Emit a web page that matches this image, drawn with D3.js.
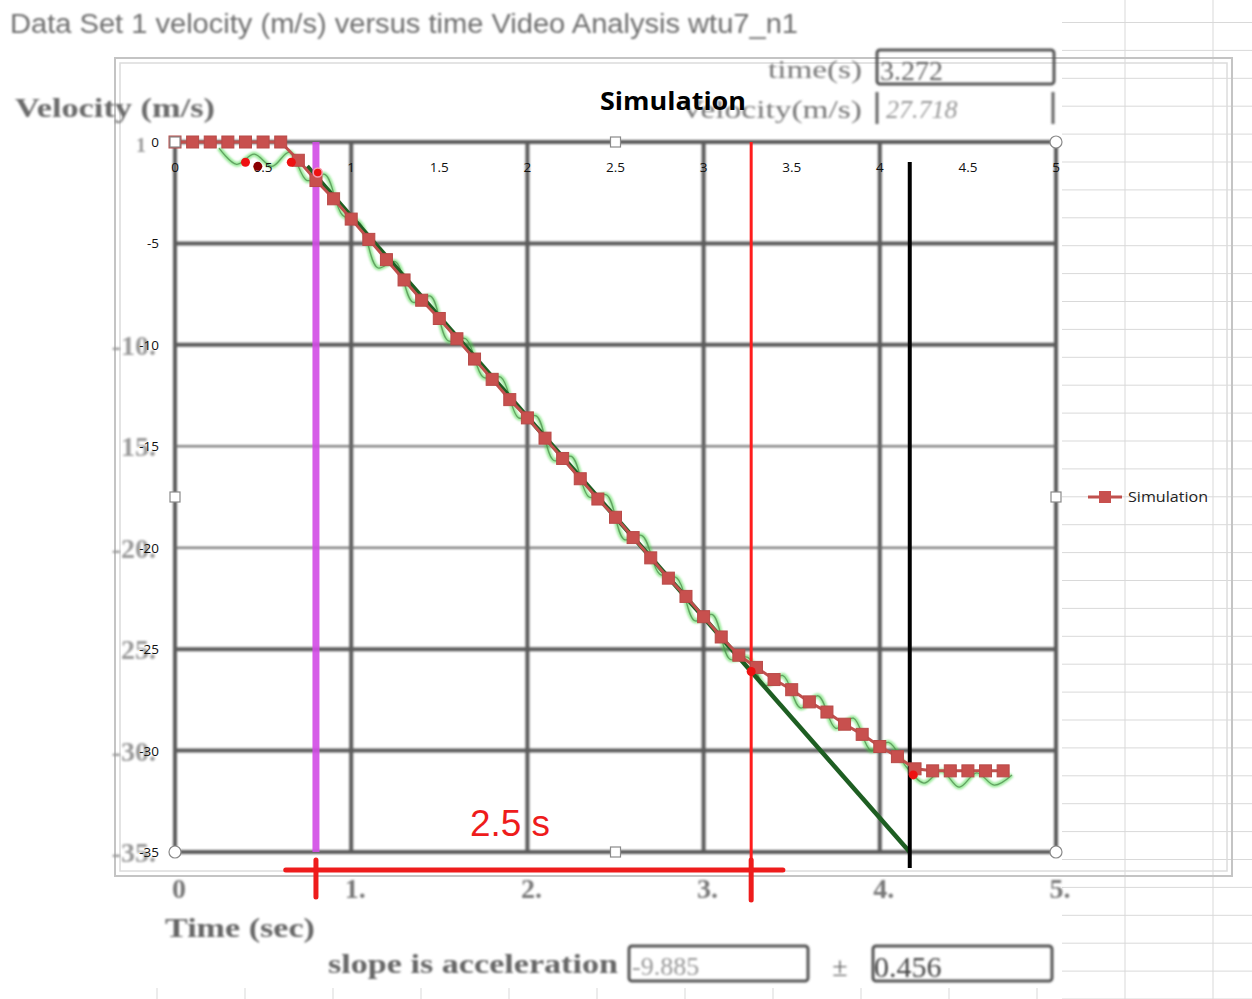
<!DOCTYPE html>
<html>
<head>
<meta charset="utf-8">
<title>Velocity versus time</title>
<script src="https://cdn.jsdelivr.net/npm/d3@7"></script>
<style>
	body { margin: 0; background: #fff; }
	svg { display: block; }
</style>
</head>
<body>
<div class="chart"></div>
<script>
// data
const simT = [0,0.1,0.2,0.3,0.4,0.5,0.6,0.7,0.8,0.9,1.0,1.1,1.2,1.3,1.4,1.5,1.6,1.7,1.8,1.9,2.0,2.1,2.2,2.3,2.4,2.5,2.6,2.7,2.8,2.9,3.0,3.1,3.2,3.3,3.4,3.5,3.6,3.7,3.8,3.9,4.0,4.1,4.2,4.3,4.4,4.5,4.6,4.7];
const simV = [0,0,0,0,0,0,0,-0.9,-1.9,-2.8,-3.8,-4.8,-5.8,-6.8,-7.8,-8.7,-9.7,-10.7,-11.7,-12.7,-13.6,-14.6,-15.6,-16.6,-17.6,-18.5,-19.5,-20.5,-21.5,-22.4,-23.4,-24.4,-25.3,-25.9,-26.5,-27.0,-27.6,-28.1,-28.7,-29.2,-29.8,-30.3,-30.9,-31.0,-31.0,-31.0,-31.0,-31.0];

// video analysis (noisy measured velocity)
const measT = [0.25,0.35,0.45,0.55,0.65,0.75,0.85,0.95,1.05,1.15,1.25,1.35,1.45,1.55,1.65,1.75,1.85,1.95,2.05,2.15,2.25,2.35,2.45,2.55,2.65,2.75,2.85,2.95,3.05,3.15,3.25,3.35,3.45,3.55,3.65,3.75,3.85,3.95,4.05,4.15,4.25,4.35,4.45,4.55,4.65,4.75];
const measV = [-0.3,-1.1,-0.6,-1.2,-0.5,-1.9,-1.6,-3.6,-4.0,-6.2,-5.9,-7.9,-7.6,-9.8,-9.7,-11.6,-11.6,-13.6,-13.5,-15.7,-15.5,-17.5,-17.4,-19.6,-19.4,-21.3,-21.5,-23.6,-23.3,-25.5,-25.4,-26.8,-26.3,-27.9,-27.3,-28.9,-28.4,-30.0,-29.6,-30.8,-31.6,-31.0,-31.8,-31.1,-31.7,-31.2];

// fitted line (slope)
const fitT = [0.75, 4.17];
const fitV = [-1.2, -35];

// marked points
const dotT = [0.40, 0.47, 0.66, 0.81, 3.27, 4.19];
const dotV = [-1.0, -1.2, -1.0, -1.5, -26.1, -31.2];

// cursors
const magentaT = 0.80;
const redT = 3.27;
const blackT = 4.17;
const bracketT = [0.6, 3.45];

// ticks
const xTicks = [0,0.5,1,1.5,2,2.5,3,3.5,4,4.5,5];
const yTicks = [0,-5,-10,-15,-20,-25,-30,-35];
const bgXLabels = ["0","1.","2.","3.","4.","5."];
const bgYLabels = ["1","","-10.","15.","-20.","25.","-30.","-35."];
const thickY = [0,-5,-10,-25,-30,-35];
const thinY = [-15,-20];

const width = 1252;
const height = 999;

const svg = d3.select(".chart").append("svg")
	.attr("width", width)
	.attr("height", height);

const defs = svg.append("defs");
defs.append("filter").attr("id", "soft")
	.append("feGaussianBlur").attr("stdDeviation", 0.8);
defs.append("filter").attr("id", "glow")
	.append("feGaussianBlur").attr("stdDeviation", 1.2);

var xscale = d3.scaleLinear().domain([0, 5]).range([175, 1056]);
var yscale = d3.scaleLinear().domain([0, -35]).range([142, 852]);

// spreadsheet cells behind everything
const sheet = svg.append("g").attr("stroke", "#d9d9d9").attr("stroke-width", 1);
d3.range(0, 36).forEach(function(i){
	let yy = 22.5 + i * 27.9;
	sheet.append("line").attr("x1", 1062).attr("x2", width).attr("y1", yy).attr("y2", yy);
});
d3.range(0, 13).forEach(function(i){
	let xx = 157 + i * 88;
	if (xx > 1060) {
		sheet.append("line").attr("x1", xx).attr("x2", xx).attr("y1", 0).attr("y2", height);
	} else {
		sheet.append("line").attr("x1", xx).attr("x2", xx).attr("y1", 988).attr("y2", height);
	}
});

// chart area frame (double line)
svg.append("rect").attr("x", 115).attr("y", 58).attr("width", 1117).attr("height", 818)
	.attr("fill", "none").attr("stroke", "#c4c4c4").attr("stroke-width", 2);
svg.append("rect").attr("x", 120).attr("y", 63).attr("width", 1107).attr("height", 808)
	.attr("fill", "none").attr("stroke", "#dcdcdc").attr("stroke-width", 1.5);

// background analysis image: grid
const grid = svg.append("g").attr("filter", "url(#soft)");
grid.selectAll(".vg")
	.data([0,1,2,3,4,5])
	.enter().append("line")
		.attr("x1", d => xscale(d)).attr("x2", d => xscale(d))
		.attr("y1", yscale(0)).attr("y2", yscale(-35))
		.attr("stroke", "#5c5c5c").attr("stroke-width", 4);
grid.selectAll(".hg")
	.data(thickY)
	.enter().append("line")
		.attr("x1", xscale(0)).attr("x2", xscale(5))
		.attr("y1", d => yscale(d)).attr("y2", d => yscale(d))
		.attr("stroke", "#5c5c5c").attr("stroke-width", 4);
grid.selectAll(".hgt")
	.data(thinY)
	.enter().append("line")
		.attr("x1", xscale(0)).attr("x2", xscale(5))
		.attr("y1", d => yscale(d)).attr("y2", d => yscale(d))
		.attr("stroke", "#6a6a6a").attr("stroke-width", 2);

// background texts (blurry serif)
const bg = svg.append("g").attr("filter", "url(#soft)").attr("fill", "#5a5a5a");
bg.append("text").attr("x", 10).attr("y", 33)
	.attr("font-family", "Liberation Sans Narrow, Liberation Sans, sans-serif")
	.attr("font-size", 27).attr("textLength", 788).attr("lengthAdjust", "spacingAndGlyphs")
	.attr("fill", "#6e6e6e")
	.text("Data Set 1 velocity (m/s) versus time   Video Analysis wtu7_n1");
bg.append("text").attr("x", 15).attr("y", 117)
	.attr("font-family", "Liberation Serif, serif").attr("font-weight", "bold")
	.attr("font-size", 27).attr("textLength", 200).attr("lengthAdjust", "spacingAndGlyphs")
	.attr("fill", "#6a6a6a")
	.text("Velocity (m/s)");
bg.append("text").attr("x", 768).attr("y", 78)
	.attr("font-family", "Liberation Serif, serif").attr("font-size", 26)
	.attr("textLength", 94).attr("lengthAdjust", "spacingAndGlyphs").attr("fill", "#777")
	.text("time(s)");
bg.append("text").attr("x", 680).attr("y", 118)
	.attr("font-family", "Liberation Serif, serif").attr("font-size", 26)
	.attr("textLength", 182).attr("lengthAdjust", "spacingAndGlyphs").attr("fill", "#777")
	.text("Velocity(m/s)");
bg.append("rect").attr("x", 877).attr("y", 50).attr("width", 177).attr("height", 34).attr("rx", 3)
	.attr("fill", "none").attr("stroke", "#555").attr("stroke-width", 3);
bg.append("text").attr("x", 880).attr("y", 80)
	.attr("font-family", "Liberation Serif, serif").attr("font-size", 28).attr("fill", "#666")
	.text("3.272");
bg.append("line").attr("x1", 877).attr("x2", 877).attr("y1", 92).attr("y2", 124).attr("stroke", "#666").attr("stroke-width", 3);
bg.append("line").attr("x1", 1053).attr("x2", 1053).attr("y1", 92).attr("y2", 124).attr("stroke", "#666").attr("stroke-width", 3);
bg.append("text").attr("x", 886).attr("y", 118)
	.attr("font-family", "Liberation Serif, serif").attr("font-style", "italic")
	.attr("font-size", 26).attr("fill", "#999")
	.text("27.718");

bg.selectAll(".bgx")
	.data(bgXLabels)
	.enter().append("text")
		.attr("x", (d, i) => xscale(i) + 4)
		.attr("y", 898)
		.attr("text-anchor", "middle")
		.attr("font-family", "Liberation Serif, serif").attr("font-weight", "bold")
		.attr("font-size", 28).attr("fill", "#777")
		.text(d => d);
bg.selectAll(".bgy")
	.data(bgYLabels)
	.enter().append("text")
		.attr("x", (d, i) => i == 0 ? 146 : 156)
		.attr("y", (d, i) => yscale(yTicks[i]) + 10)
		.attr("text-anchor", "end")
		.attr("font-family", "Liberation Serif, serif").attr("font-weight", "bold")
		.attr("font-size", (d, i) => i == 0 ? 20 : 28).attr("fill", "#999")
		.text(d => d);
bg.append("text").attr("x", 165).attr("y", 937)
	.attr("font-family", "Liberation Serif, serif").attr("font-weight", "bold")
	.attr("font-size", 27).attr("textLength", 150).attr("lengthAdjust", "spacingAndGlyphs")
	.attr("fill", "#666")
	.text("Time (sec)");
bg.append("text").attr("x", 328).attr("y", 973)
	.attr("font-family", "Liberation Serif, serif").attr("font-weight", "bold")
	.attr("font-size", 27).attr("textLength", 290).attr("lengthAdjust", "spacingAndGlyphs")
	.attr("fill", "#666")
	.text("slope is acceleration");
bg.append("rect").attr("x", 629).attr("y", 946).attr("width", 179).attr("height", 35).attr("rx", 3)
	.attr("fill", "none").attr("stroke", "#555").attr("stroke-width", 3);
bg.append("text").attr("x", 632).attr("y", 975)
	.attr("font-family", "Liberation Serif, serif").attr("font-size", 26).attr("fill", "#999")
	.text("-9.885");
bg.append("text").attr("x", 840).attr("y", 976).attr("text-anchor", "middle")
	.attr("font-family", "Liberation Serif, serif").attr("font-size", 28).attr("fill", "#666")
	.text("\u00b1");
bg.append("rect").attr("x", 873).attr("y", 946).attr("width", 179).attr("height", 35).attr("rx", 3)
	.attr("fill", "none").attr("stroke", "#555").attr("stroke-width", 3);
bg.append("text").attr("x", 874).attr("y", 977)
	.attr("font-family", "Liberation Serif, serif").attr("font-size", 30).attr("fill", "#444")
	.text("0.456");

// measured data, green squiggle
var measLine = d3.line()
	.x((d, i) => xscale(measT[i]))
	.y(d => yscale(d))
	.curve(d3.curveCatmullRom);
svg.append("path").datum(measV)
	.attr("d", measLine)
	.attr("fill", "none").attr("stroke", "#39d639").attr("stroke-width", 5)
	.attr("opacity", 0.5).attr("filter", "url(#glow)");
svg.append("path").datum(measV)
	.attr("d", measLine)
	.attr("fill", "none").attr("stroke", "#4f8a4f").attr("stroke-width", 1.3)
	.attr("opacity", 0.75);

// fitted line
svg.append("line")
	.attr("x1", xscale(fitT[0])).attr("y1", yscale(fitV[0]))
	.attr("x2", xscale(fitT[1])).attr("y2", yscale(fitV[1]))
	.attr("stroke", "#1e5e22").attr("stroke-width", 4.5);

// cursors
svg.append("line")
	.attr("x1", xscale(magentaT)).attr("x2", xscale(magentaT))
	.attr("y1", yscale(0)).attr("y2", yscale(-35))
	.attr("stroke", "#d24ce6").attr("stroke-width", 7).attr("opacity", 0.9);
svg.append("line")
	.attr("x1", xscale(redT)).attr("x2", xscale(redT))
	.attr("y1", yscale(0)).attr("y2", 902)
	.attr("stroke", "#ff1c1c").attr("stroke-width", 3);
svg.append("line")
	.attr("x1", xscale(blackT)).attr("x2", xscale(blackT))
	.attr("y1", 162).attr("y2", 868)
	.attr("stroke", "#000").attr("stroke-width", 4);

// excel overlay: axes labels
const excelFont = "Open Sans, Liberation Sans, sans-serif";
svg.append("g").selectAll("text")
	.data(yTicks)
	.enter().append("text")
		.attr("x", 159)
		.attr("y", d => yscale(d) + 5)
		.attr("text-anchor", "end")
		.attr("font-family", excelFont).attr("font-size", 13.5).attr("fill", "#111")
		.text(d => d);
svg.append("g").selectAll("text")
	.data(xTicks)
	.enter().append("text")
		.attr("x", d => xscale(d))
		.attr("y", 172)
		.attr("text-anchor", "middle")
		.attr("font-family", excelFont).attr("font-size", 13.5).attr("fill", "#111")
		.text(d => d);

// simulation series
var simLine = d3.line()
	.x((d, i) => xscale(simT[i]))
	.y(d => yscale(d));
svg.append("path").datum(simV)
	.attr("d", simLine)
	.attr("fill", "none").attr("stroke", "#c0504d").attr("stroke-width", 3);
svg.append("g").selectAll("rect")
	.data(simV)
	.enter().append("rect")
		.attr("x", (d, i) => xscale(simT[i]) - 6)
		.attr("y", d => yscale(d) - 6)
		.attr("width", 12).attr("height", 12)
		.attr("fill", "#c8504e").attr("stroke", "#b84a48").attr("stroke-width", 1);

// marked points
svg.append("g").selectAll("circle")
	.data(dotV)
	.enter().append("circle")
		.attr("cx", (d, i) => xscale(dotT[i]))
		.attr("cy", d => yscale(d))
		.attr("r", 4.5)
		.attr("fill", (d, i) => i == 1 ? "#8a0000" : "#ee1111")
		.attr("stroke", (d, i) => i == 3 ? "#f4a0b0" : "none").attr("stroke-width", 1.5);

// plot area selection handles
const handles = svg.append("g").attr("fill", "#fff").attr("stroke", "#8a8a8a").attr("stroke-width", 1.2);
[[5,0],[0,-35],[5,-35]].forEach(function(p){
	handles.append("circle").attr("cx", xscale(p[0])).attr("cy", yscale(p[1])).attr("r", 6);
});
[[0,0],[2.5,0],[0,-17.5],[5,-17.5],[2.5,-35]].forEach(function(p){
	handles.append("rect").attr("x", xscale(p[0]) - 5).attr("y", yscale(p[1]) - 5)
		.attr("width", 10).attr("height", 10);
});

// title of the overlay chart
svg.append("text").attr("x", 600).attr("y", 110)
	.attr("font-family", excelFont).attr("font-weight", "bold")
	.attr("font-size", 25).attr("textLength", 146).attr("lengthAdjust", "spacingAndGlyphs")
	.attr("fill", "#000")
	.text("Simulation");

// legend
const legend = svg.append("g").attr("transform", "translate(1088,497)");
legend.append("line").attr("x1", 0).attr("x2", 34).attr("stroke", "#c0504d").attr("stroke-width", 3);
legend.append("rect").attr("x", 11).attr("y", -6).attr("width", 12).attr("height", 12).attr("fill", "#c8504e");
legend.append("text").attr("x", 40).attr("y", 5)
	.attr("font-family", excelFont).attr("font-size", 14)
	.attr("textLength", 80).attr("lengthAdjust", "spacingAndGlyphs").attr("fill", "#222")
	.text("Simulation");

// 2.5 s bracket
const bracket = svg.append("g").attr("stroke", "#ee1c1c").attr("stroke-width", 5).attr("stroke-linecap", "round");
bracket.append("line")
	.attr("x1", xscale(bracketT[0]) + 5).attr("x2", xscale(bracketT[1]))
	.attr("y1", 870).attr("y2", 870);
bracket.append("line")
	.attr("x1", xscale(magentaT)).attr("x2", xscale(magentaT))
	.attr("y1", 860).attr("y2", 897);
bracket.append("line")
	.attr("x1", xscale(redT)).attr("x2", xscale(redT))
	.attr("y1", 860).attr("y2", 900);
svg.append("text").attr("x", 470).attr("y", 836)
	.attr("font-family", "Liberation Sans, sans-serif").attr("font-size", 36)
	.attr("textLength", 80).attr("lengthAdjust", "spacingAndGlyphs")
	.attr("fill", "#ee1c1c")
	.text("2.5 s");
</script>
</body>
</html>
